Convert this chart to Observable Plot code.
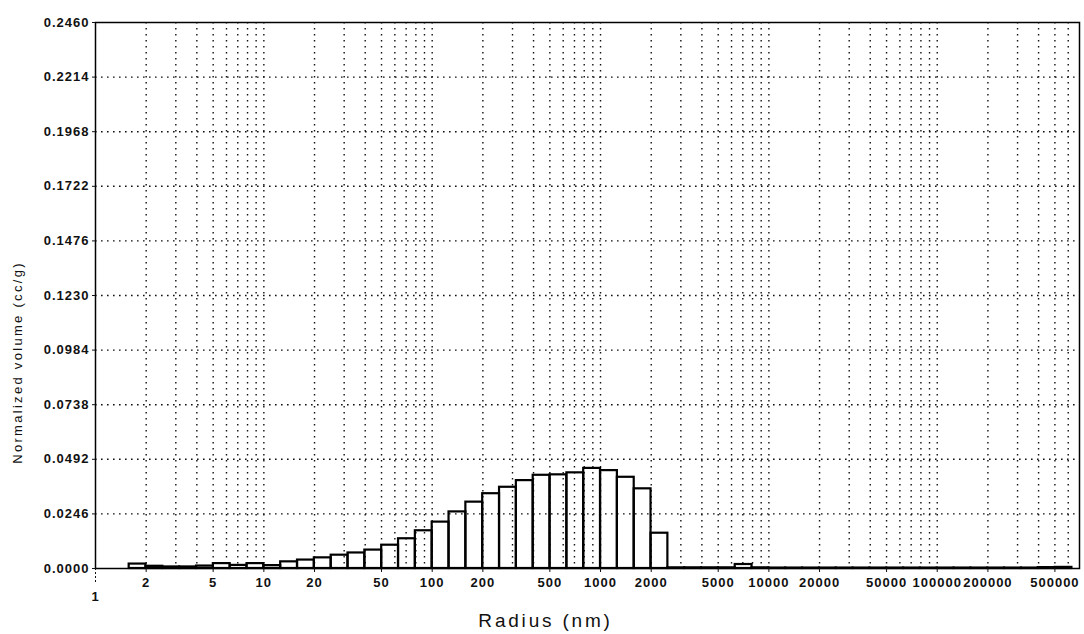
<!DOCTYPE html>
<html>
<head>
<meta charset="utf-8">
<script src="https://cdn.jsdelivr.net/npm/d3@7"></script>
<script src="https://cdn.jsdelivr.net/npm/@observablehq/plot@0.6"></script>
<style>
  html, body { margin: 0; padding: 0; background: #fff; }
  #chart svg text { letter-spacing: 1px; }
</style>
</head>
<body>
<div id="chart"></div>
<script>
// Histogram bin edges (radius, nm) — 0.1-decade bins
const binEdges = [
  1.585, 1.995, 2.512, 3.162, 3.981, 5.012, 6.310, 7.943,
  10, 12.59, 15.85, 19.95, 25.12, 31.62, 39.81, 50.12, 63.10, 79.43,
  100, 125.9, 158.5, 199.5, 251.2, 316.2, 398.1, 501.2, 631.0, 794.3,
  1000, 1259, 1585, 1995, 2512, 3162, 3981, 5012, 6310, 7943,
  10000, 12589, 15849, 19953, 25119, 31623, 39811, 50119, 63096, 79433,
  100000, 125893, 158489, 199526, 251189, 316228, 398107, 501187, 630957
];

// Normalized volume (cc/g) for each bin
const volume = [
  0.0020, 0.0010, 0.0007, 0.0007, 0.0011, 0.0022, 0.0014, 0.0022,
  0.0013, 0.0030, 0.0038, 0.0048, 0.0060, 0.0070, 0.0083, 0.0105, 0.0134, 0.0170,
  0.0209, 0.0255, 0.0299, 0.0337, 0.0366, 0.0396, 0.0420, 0.0422, 0.0431, 0.0451,
  0.0441, 0.0411, 0.0359, 0.0159, 0.0003, 0.0003, 0.0003, 0.0003, 0.0018, 0.0003,
  0.0002, 0.0002, 0.0002, 0.0002, 0.0002, 0.0002, 0.0002, 0.0002, 0.0002, 0.0002,
  0.0002, 0.0002, 0.0002, 0.0002, 0.0002, 0.0002, 0.0004, 0.0005
];

const yTickValues = [0, 0.0246, 0.0492, 0.0738, 0.0984, 0.1230, 0.1476, 0.1722, 0.1968, 0.2214, 0.2460];
const xTickValues = [2, 5, 10, 20, 50, 100, 200, 500, 1000, 2000, 5000, 10000, 20000, 50000, 100000, 200000, 500000];
const xFirstTick = [1];
const yTitle = ["Normalized volume (cc/g)"];
const xTitle = ["Radius (nm)"];

const bins = volume.map((v, i) => ({lo: binEdges[i], hi: binEdges[i + 1], v}));

// vertical log grid: 2..9 × each decade, up to 600000
const gridX = [];
for (let e = 0; e <= 5; e++) {
  for (let m = 1; m <= 9; m++) {
    const val = m * Math.pow(10, e);
    if (val > 1 && val <= 600000) gridX.push(val);
  }
}

const chart = Plot.plot({
  width: 1084,
  height: 634,
  marginLeft: 95,
  marginRight: 5,
  marginTop: 22,
  marginBottom: 66,
  style: {fontFamily: "'Liberation Sans', Arial, sans-serif", fontSize: "13px", color: "#111", background: "#fff"},
  x: {type: "log", domain: [1, 700000]},
  y: {domain: [0, 0.246]},
  marks: [
    Plot.ruleY(yTickValues.slice(1, -1), {stroke: "#111", strokeWidth: 1.4, strokeDasharray: "1.6,4.4"}),
    Plot.ruleX(gridX, {stroke: "#111", strokeWidth: 1.4, strokeDasharray: "1.6,4.4"}),
    Plot.rectY(bins, {x1: "lo", x2: "hi", y: "v", fill: "none", stroke: "#000", strokeWidth: 2.2}),
    Plot.frame({stroke: "#000", strokeWidth: 1.5}),
    Plot.axisY(yTickValues, {tickFormat: d3.format(".4f"), tickSize: 3, tickPadding: 3, fontWeight: "bold", fontSize: 13, label: null}),
    Plot.axisX(xTickValues, {tickFormat: () => "", tickSize: 4, label: null}),
    Plot.text(xTickValues, {x: d => d, text: d => String(d), frameAnchor: "bottom", lineAnchor: "top", dy: 9, fontWeight: "bold", fontSize: 13, fill: "#111"}),
    Plot.axisX(xFirstTick, {tickFormat: () => "", tickSize: 14, strokeDasharray: "2,2", label: null}),
    Plot.text(xFirstTick, {x: d => d, text: d => String(d), frameAnchor: "bottom", lineAnchor: "top", dy: 23, fontWeight: "bold", fontSize: 13, fill: "#111"}),
    Plot.text(yTitle, {text: d => d, frameAnchor: "left", textAnchor: "middle", lineAnchor: "middle", rotate: -90, dx: -78, dy: 67, fontSize: 13, fill: "#111"}),
    Plot.text(xTitle, {text: d => d, frameAnchor: "bottom", textAnchor: "middle", lineAnchor: "middle", dx: -42, dy: 52, fontSize: 19, fill: "#111"})
  ]
});
document.getElementById("chart").appendChild(chart);
d3.select(chart).selectAll("text").each(function () {
  const t = this.textContent;
  if (t === yTitle[0]) this.style.letterSpacing = "2.3px";
  if (t === xTitle[0]) this.style.letterSpacing = "2.8px";
});
</script>
</body>
</html>
